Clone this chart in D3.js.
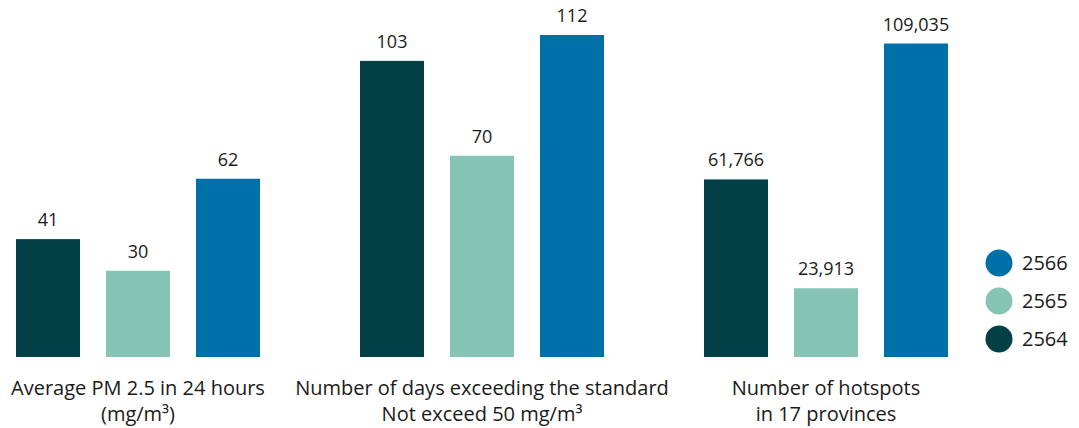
<!DOCTYPE html>
<html>
<head>
<meta charset="utf-8">
<script src="https://cdn.jsdelivr.net/npm/d3@7"></script>
<style>
  body { margin: 0; background: #fff; overflow: hidden; }
  svg text { font-family: "Open Sans", "Noto Sans", sans-serif; fill: #1a1a1a; }
</style>
</head>
<body>
<div id="chart"></div>
<script>
// chart data
var groups = ["pm", "days", "hotspots"];
var groupLabels = [
    ["Average PM 2.5 in 24 hours", "(mg/m³)"],
    ["Number of days exceeding the standard", "Not exceed 50 mg/m³"],
    ["Number of hotspots", "in 17 provinces"]
];
var years = ["2564", "2565", "2566"];
var values2564 = [41, 103, 61766];
var values2565 = [30, 70, 23913];
var values2566 = [62, 112, 109035];
var colors = ["#033f46", "#86c4b3", "#0070a8"];

var width = 1079, height = 428;
var baseY = 357;

var svg = d3.select("#chart").append("svg")
    .attr("width", width)
    .attr("height", height);

// every group has its own scale (the hotspot counts are in the thousands)
var yScaleSmall = d3.scaleLinear().domain([0, 112]).range([baseY, 35]);
var yScaleLarge = d3.scaleLinear().domain([0, 112000]).range([baseY, 35]);
function yFor(g) { return g == "hotspots" ? yScaleLarge : yScaleSmall; }

var x0 = d3.scaleBand().domain(groups).range([-34, 998]);
var x1 = d3.scaleBand().domain(years).range([50, 294]).paddingInner(26 / 90);

var data = [];
groups.forEach(function (g, i) {
    [values2564, values2565, values2566].forEach(function (vals, j) {
        data.push({group: g, year: years[j], value: vals[i], color: colors[j]});
    });
});

var fmt = d3.format(",");

var bars = svg.selectAll("g.bar").data(data).enter().append("g").attr("class", "bar");

bars.append("rect")
    .attr("x", function (d) { return x0(d.group) + x1(d.year); })
    .attr("y", function (d) { return yFor(d.group)(d.value); })
    .attr("width", x1.bandwidth())
    .attr("height", function (d) { return baseY - yFor(d.group)(d.value); })
    .attr("fill", function (d) { return d.color; });

bars.append("text")
    .attr("x", function (d) { return x0(d.group) + x1(d.year) + x1.bandwidth() / 2; })
    .attr("y", function (d) { return yFor(d.group)(d.value) - 13; })
    .attr("text-anchor", "middle")
    .style("font-size", "18px")
    .text(function (d) { return fmt(d.value); });

// category labels under each group, two lines each
var labelLines = [];
groups.forEach(function (g, i) {
    groupLabels[i].forEach(function (t, k) { labelLines.push({g: g, t: t, line: k}); });
});

svg.selectAll("text.cat").data(labelLines).enter().append("text")
    .attr("class", "cat")
    .attr("text-anchor", "middle")
    .style("font-size", "20px")
    .attr("x", function (d) { return x0(d.g) + x0.bandwidth() / 2; })
    .attr("y", function (d) { return 395 + d.line * 26; })
    .text(function (d) { return d.t; });

// legend, newest year on top
var legendYears = years.slice().reverse();
var legend = svg.selectAll("g.legend").data(legendYears).enter().append("g")
    .attr("class", "legend")
    .attr("transform", function (d, i) { return "translate(999," + (263 + i * 38) + ")"; });

legend.append("circle")
    .attr("r", 13.5)
    .attr("fill", function (d) { return colors[years.indexOf(d)]; });

legend.append("text")
    .attr("x", 23)
    .attr("y", 7)
    .style("font-size", "20px")
    .text(function (d) { return d; });
</script>
</body>
</html>
